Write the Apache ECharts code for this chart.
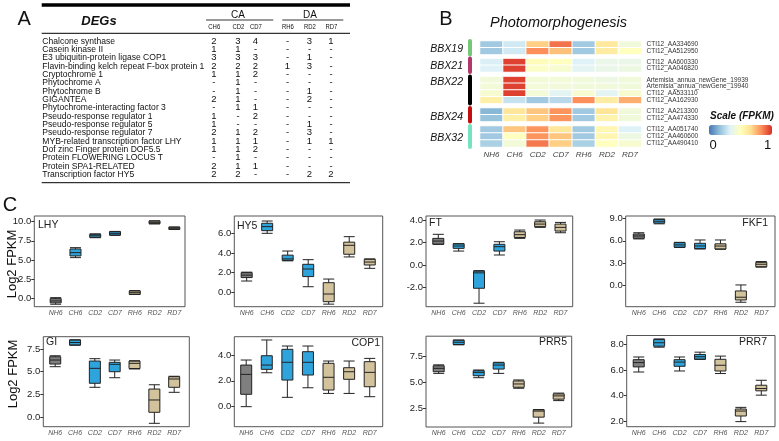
<!DOCTYPE html>
<html><head><meta charset="utf-8">
<script src="https://cdn.jsdelivr.net/npm/echarts@6/dist/echarts.min.js"></script>
<style>html,body{margin:0;padding:0;background:#fff}#c{width:779px;height:441px}</style>
</head><body><div id="c"></div>
<script>
const FONT = '"Liberation Sans", Arial, sans-serif';

// ---------- Panel A : table ----------
const degNames = [
  'Chalcone synthase','Casein kinase II','E3 ubiquitin-protein ligase COP1',
  'Flavin-binding kelch repeat F-box protein 1','Cryptochrome 1','Phytochrome A',
  'Phytochrome B','GIGANTEA','Phytochrome-interacting factor 3','Pseudo-response regulator 1',
  'Pseudo-response regulator 5','Pseudo-response regulator 7','MYB-related transcription factor LHY',
  'Dof zinc Finger protein DOF5.5','Protein FLOWERING LOCUS T','Protein SPA1-RELATED','Transcription factor HY5'];
const tableGroups = ['CA','DA'];
const tableCols = ['CH6','CD2','CD7','RH6','RD2','RD7'];
const cntCH6 = ['2','1','3','2','1','-','-','2','-','1','1','2','1','1','-','2','2'];
const cntCD2 = ['3','1','3','2','1','1','1','1','1','-','-','1','1','1','1','1','2'];
const cntCD7 = ['4','-','3','2','2','-','-','-','1','2','-','2','1','2','-','1','-'];
const cntRH6 = ['-','-','-','1','-','-','-','-','-','-','-','-','-','-','-','-','-'];
const cntRD2 = ['3','-','1','3','-','-','1','2','-','-','1','3','1','-','-','-','2'];
const cntRD7 = ['1','-','-','-','-','-','-','-','-','-','-','-','1','-','-','-','2'];

// ---------- Panel B : heatmap ----------
const heatCols = ['NH6','CH6','CD2','CD7','RH6','RD2','RD7'];
const bbxGroups = ['BBX19','BBX21','BBX22','BBX24','BBX32'];
const bbx19Genes = ['CTI12_AA334690','CTI12_AA512950'];
const bbx19Vals = [[0.20,0.30,0.70,0.88,0.20,0.62,0.42],[0.20,0.30,0.83,0.73,0.20,0.60,0.50]];
const bbx21Genes = ['CTI12_AA600330','CTI12_AA046820'];
const bbx21Vals = [[0.32,0.97,0.52,0.50,0.33,0.38,0.38],[0.33,0.97,0.48,0.45,0.35,0.38,0.40]];
const bbx22Genes = ['Artemisia_annua_newGene_19939','Artemisia_annua_newGene_19940','CTI12_AA533110','CTI12_AA162930'];
const bbx22Vals = [[0.42,0.97,0.43,0.43,0.42,0.40,0.42],[0.43,0.97,0.43,0.42,0.42,0.42,0.42],
                   [0.45,0.97,0.43,0.35,0.45,0.35,0.45],[0.58,0.28,0.20,0.25,0.83,0.60,0.77]];
const bbx24Genes = ['CTI12_AA213300','CTI12_AA474330'];
const bbx24Vals = [[0.15,0.63,0.72,0.82,0.20,0.64,0.42],[0.18,0.58,0.70,0.82,0.20,0.56,0.42]];
const bbx32Genes = ['CTI12_AA051740','CTI12_AA460600','CTI12_AA490410'];
const bbx32Vals = [[0.20,0.72,0.82,0.63,0.20,0.55,0.33],[0.20,0.50,0.82,0.72,0.20,0.55,0.40],
                   [0.22,0.43,0.87,0.70,0.22,0.50,0.45]];
const scaleTicks = ['0','1'];

// ---------- Panel C : box plots ([min, Q1, median, Q3, max]) ----------
const conds = ['NH6','CH6','CD2','CD7','RH6','RD2','RD7'];
const boxLHY  = [[-0.78,-0.6,-0.35,-0.05,0.08],[5.3,5.52,5.95,6.43,6.6],[7.9,7.95,8.15,8.35,8.4],[8.2,8.25,8.47,8.68,8.72],[0.5,0.52,0.73,0.95,1.0],[9.7,9.73,9.9,10.08,10.1],[8.97,9.0,9.13,9.26,9.3]];
const boxHY5  = [[1.15,1.5,1.75,2.0,2.05],[6.0,6.27,6.68,7.02,7.25],[3.2,3.25,3.4,3.78,4.2],[0.57,1.6,2.37,2.85,3.32],[-1.2,-0.95,-0.17,0.98,1.35],[3.6,3.87,4.78,5.1,5.66],[2.44,2.78,3.08,3.36,3.4]];
const boxFT   = [[1.84,1.85,2.13,2.37,2.73],[1.24,1.48,1.69,1.88,1.9],[-3.4,-2.07,-0.7,-0.55,-0.5],[0.89,1.24,1.63,1.84,2.07],[2.37,2.45,2.7,2.96,3.11],[3.35,3.41,3.64,3.85,4.0],[2.87,3.02,3.35,3.64,3.79]];
const boxFKF1 = [[6.26,6.35,6.66,6.93,7.1],[8.3,8.4,8.65,8.9,8.95],[5.1,5.15,5.45,5.75,5.8],[4.9,4.95,5.31,5.67,6.12],[4.86,4.9,5.3,5.6,6.12],[-2.3,-1.99,-1.62,-0.77,0.04],[2.45,2.5,2.84,3.1,3.2]];
const boxGI   = [[5.55,5.84,6.28,6.64,6.75],[7.9,7.93,8.2,8.48,8.5],[3.29,3.73,5.37,6.17,6.43],[4.34,5.0,5.81,6.03,6.28],[5.3,5.35,5.92,6.17,6.2],[-0.66,0.55,1.9,3.1,3.57],[2.74,3.29,4.2,4.45,4.5]];
const boxCOP1 = [[-0.05,0.93,2.51,3.25,3.65],[2.64,2.91,3.25,3.99,5.24],[0.69,2.06,3.47,4.5,4.76],[1.45,2.46,3.47,4.31,4.76],[1.0,1.27,2.28,3.39,3.57],[1.0,2.12,2.72,3.04,3.57],[0.74,1.53,2.67,3.52,3.78]];
const boxPRR5 = [[5.87,6.03,6.36,6.61,6.7],[8.65,8.68,8.9,9.1,9.12],[5.45,5.64,5.97,6.13,6.2],[5.87,6.29,6.68,6.9,6.95],[4.42,4.52,4.84,5.13,5.23],[1.03,1.61,2.2,2.32,2.35],[3.22,3.36,3.68,3.87,3.95]];
const boxPRR7 = [[5.85,6.25,6.59,6.82,7.03],[7.8,7.88,8.15,8.4,8.45],[5.93,6.3,6.63,6.82,7.03],[6.84,6.86,7.05,7.23,7.41],[5.73,5.93,6.38,6.85,7.1],[1.95,2.39,2.78,2.94,3.07],[4.03,4.37,4.55,4.81,5.2]];
const ticksLHY = [0,2.5,5,7.5,10];
const ticksHY5 = [0,2,4,6];
const ticksFT = [-2,0,2,4];
const ticksFKF1 = [0,3,6,9];
const ticksGI = [0,2.5,5,7.5];
const ticksCOP1 = [0,2,4];
const ticksPRR5 = [2.5,5,7.5];
const ticksPRR7 = [2,4,6,8];
const yTitle = 'Log2 FPKM';

// ================= build =================
const grids = [], xAxes = [], yAxes = [], series = [], graphics = [];
function txt(text, x, y, size, opt) {
  opt = opt || {};
  graphics.push({
    type: 'text', x: x, y: y, rotation: opt.rot || 0, scaleX: opt.sx || 1, z: 100, silent: true,
    style: {
      text: text, fill: opt.color || '#111',
      font: (opt.style || '') + ' ' + (opt.weight || '') + ' ' + size + 'px ' + FONT,
      textAlign: opt.align || 'left', align: opt.align || 'left',
      textVerticalAlign: 'middle', verticalAlign: 'middle'
    }
  });
}
function hline(x1, x2, y, w) {
  graphics.push({type: 'line', silent: true, shape: {x1: x1, y1: y, x2: x2, y2: y}, style: {stroke: '#000', lineWidth: w}});
}

// --- Panel A
txt('A', 17.5, 19, 20);
hline(41.7, 350, 5, 3.3);
hline(206, 273.3, 20, 0.8);
hline(282.3, 343.3, 20, 0.8);
hline(41.7, 350, 33.3, 1);
hline(41.7, 350, 182.7, 1);
txt('DEGs', 99, 21.5, 13, {style: 'italic', weight: 'bold', align: 'center'});
txt(tableGroups[0], 238, 15, 10, {align: 'center'});
txt(tableGroups[1], 310, 15, 10, {align: 'center'});
const colX = [213.8, 238, 255.5, 287.5, 309.5, 331];
const colCounts = [cntCH6, cntCD2, cntCD7, cntRH6, cntRD2, cntRD7];
tableCols.forEach((c, j) => txt(c, colX[j] - 5.5, 27.3, 7, {sx: 0.85}));
degNames.forEach((n, i) => {
  const y = 41.2 + i * 8.33;
  txt(n, 42.3, y, 9.5, {sx: 0.9});
  colCounts.forEach((arr, j) => txt(arr[i], colX[j], y, 9.5, {align: 'center'}));
});

// --- Panel B
txt('B', 446, 19, 20, {align: 'center'});
txt('Photomorphogenesis', 490, 23, 14.5, {style: 'italic'});
const heatGenes = [bbx19Genes, bbx21Genes, bbx22Genes, bbx24Genes, bbx32Genes];
const heatVals = [bbx19Vals, bbx21Vals, bbx22Vals, bbx24Vals, bbx32Vals];
const heatBarColors = ['#74c776', '#b2386b', '#000000', '#c50d0d', '#74e3c1'];
const heatTops = [41, 58.5, 76.5, 108, 126];
const heatLabelY = [48.8, 66.5, 82, 117.5, 138];
bbxGroups.forEach((g, gi) => {
  const genes = heatGenes[gi];
  const h = genes.length * (gi === 4 ? 7 : 6.75);
  grids.push({left: 480, top: heatTops[gi], width: 161.5, height: h, show: false, containLabel: false, outerBoundsMode: 'none'});
  xAxes.push({gridIndex: gi, type: 'category', data: heatCols, axisLine: {show: false}, axisTick: {show: false},
    splitLine: {show: false},
    axisLabel: {show: gi === 4, interval: 0, fontStyle: 'italic', fontSize: 8, color: '#444', margin: 4, fontFamily: FONT}});
  yAxes.push({gridIndex: gi, type: 'category', data: genes, inverse: true, position: 'left', offset: 10,
    axisLine: {show: true, lineStyle: {color: heatBarColors[gi], width: 4}}, axisTick: {show: false},
    axisLabel: {show: false}, splitLine: {show: false}});
  yAxes.push({gridIndex: gi, type: 'category', data: genes, inverse: true, position: 'right',
    axisLine: {show: false}, axisTick: {show: false}, splitLine: {show: false},
    axisLabel: {interval: 0, fontSize: 6.5, color: '#333', margin: 5, fontFamily: FONT}});
  const data = [];
  heatVals[gi].forEach((row, r) => row.forEach((v, c) => data.push([c, r, v])));
  series.push({type: 'heatmap', xAxisIndex: gi, yAxisIndex: 2 * gi, data: data, silent: true,
    itemStyle: {borderColor: '#fff', borderWidth: 1}, emphasis: {disabled: true}});
  txt(g, 463, heatLabelY[gi], 10.5, {style: 'italic', align: 'right'});
});
txt('Scale (FPKM)', 710, 116, 10, {style: 'italic', weight: 'bold'});
txt(scaleTicks[0], 713, 145.5, 13, {align: 'center'});
txt(scaleTicks[1], 767.5, 145.5, 13, {align: 'center'});

// --- Panel C
txt('C', 10, 205, 20, {align: 'center'});
txt(yTitle, 12.5, 264, 13, {rot: Math.PI / 2, align: 'center'});
txt(yTitle, 13, 374, 13, {rot: Math.PI / 2, align: 'center'});
const condColors = ['#7f7f7f', '#2fa4dc', '#2fa4dc', '#2fa4dc', '#d3c39c', '#d3c39c', '#d3c39c'];
const panels = [
  {name: 'LHY',  box: boxLHY,  ticks: ticksLHY,  frame: [34.3, 216, 185, 306.7], yr: [-1.1, 10.73], data: [45.8, 184.2], lab: [38, 225, 'left']},
  {name: 'HY5',  box: boxHY5,  ticks: ticksHY5,  frame: [234.3, 216, 382.7, 306.7], yr: [-1.46, 7.76], data: [236.4, 380.0], lab: [237, 226, 'left']},
  {name: 'FT',   box: boxFT,   ticks: ticksFT,   frame: [426, 216, 572.7, 306.7], yr: [-3.71, 4.36], data: [428.1, 570.7], lab: [429, 222.7, 'left']},
  {name: 'FKF1', box: boxFKF1, ticks: ticksFKF1, frame: [625.7, 216, 775, 306.7], yr: [-2.9, 9.36], data: [628.6, 771.5], lab: [768, 222.7, 'right']},
  {name: 'GI',   box: boxGI,   ticks: ticksGI,   frame: [43.3, 336.7, 189.3, 426.7], yr: [-1.03, 8.84], data: [45.3, 184.1], lab: [46, 342.5, 'left']},
  {name: 'COP1', box: boxCOP1, ticks: ticksCOP1, frame: [234.3, 336.7, 382.7, 426.7], yr: [-1.64, 5.5], data: [235.9, 380.0], lab: [380, 343, 'right']},
  {name: 'PRR5', box: boxPRR5, ticks: ticksPRR5, frame: [426, 336.2, 571.7, 427], yr: [0.65, 9.49], data: [428.7, 568.7], lab: [567, 342, 'right']},
  {name: 'PRR7', box: boxPRR7, ticks: ticksPRR7, frame: [626.7, 335.5, 775, 426.7], yr: [1.55, 8.72], data: [628.5, 771.5], lab: [767, 342, 'right']}
];
panels.forEach(p => {
  const f = p.frame;
  const fg = grids.length;
  grids.push({left: f[0], top: f[1], width: f[2] - f[0], height: f[3] - f[1], show: true,
    borderColor: '#555', borderWidth: 1, backgroundColor: 'rgba(0,0,0,0)', containLabel: false, outerBoundsMode: 'none'});
  const dg = grids.length;
  grids.push({left: p.data[0], top: f[1], width: p.data[1] - p.data[0], height: f[3] - f[1], show: false, containLabel: false, outerBoundsMode: 'none'});
  xAxes.push({gridIndex: fg, type: 'value', show: false, min: 0, max: 1});
  yAxes.push({gridIndex: fg, type: 'value', min: p.yr[0], max: p.yr[1],
    axisLine: {show: false}, splitLine: {show: false},
    axisTick: {show: true, length: 3, customValues: p.ticks, lineStyle: {color: '#333', width: 1}},
    axisLabel: {customValues: p.ticks, formatter: v => Number(v).toFixed(1), fontSize: 9.5, color: '#222', margin: 3, fontFamily: FONT}});
  const xi = xAxes.length;
  xAxes.push({gridIndex: dg, type: 'category', data: conds, axisLine: {show: false}, axisTick: {show: false},
    splitLine: {show: false},
    axisLabel: {interval: 0, fontStyle: 'italic', fontSize: 7, color: '#555', margin: 3, fontFamily: FONT}});
  const yi = yAxes.length;
  yAxes.push({gridIndex: dg, type: 'value', min: p.yr[0], max: p.yr[1], show: false, splitLine: {show: false}});
  series.push({type: 'boxplot', xAxisIndex: xi, yAxisIndex: yi, boxWidth: [11, 11], silent: true,
    itemStyle: {borderColor: '#222', borderWidth: 1},
    emphasis: {disabled: true},
    data: p.box.map((v, k) => ({value: v, itemStyle: {color: condColors[k], borderColor: '#222', borderWidth: 1}}))});
  txt(p.name, p.lab[0], p.lab[1], 10.5, {align: p.lab[2], color: '#222'});
});

const chart = echarts.init(document.getElementById('c'), null, {renderer: 'canvas'});
chart.setOption({
  animation: false,
  backgroundColor: '#fff',
  textStyle: {fontFamily: FONT},
  grid: grids, xAxis: xAxes, yAxis: yAxes, series: series,
  visualMap: {
    type: 'continuous', min: 0, max: 1, seriesIndex: [0, 1, 2, 3, 4], orient: 'horizontal',
    left: 709, top: 125, itemWidth: 10, itemHeight: 63, padding: 0, calculable: false,
    text: null, hoverLink: false, realtime: false,
    inRange: {color: ['#4575b4', '#91bfdb', '#e0f3f8', '#ffffbf', '#fee090', '#fc8d59', '#d73027']}
  },
  graphic: {elements: graphics}
});
</script></body></html>
